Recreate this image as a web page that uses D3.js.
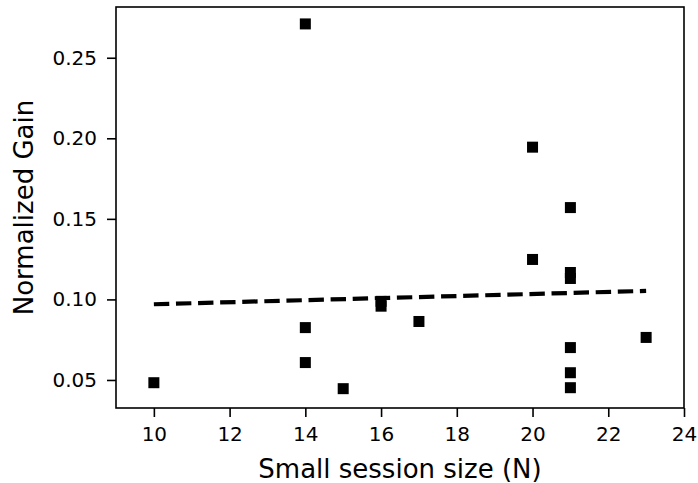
<!DOCTYPE html>
<meta charset="utf-8">
<style>
  body { margin: 0; background: #fff; }
  text { font-family: "DejaVu Sans", sans-serif; fill: #000; }
</style>
<div id="chart"></div>
<script src="https://d3js.org/d3.v7.min.js"></script>
<script>

// data
var sessionSize = [10, 14, 14, 14, 15, 16, 16, 17, 20, 20, 21, 21, 21, 21, 21, 21, 23];
var normGain    = [0.0483, 0.271, 0.0825, 0.0608, 0.0446, 0.0988, 0.0958, 0.0863,
                   0.1945, 0.1248, 0.157, 0.1167, 0.113, 0.0701, 0.0545, 0.0452, 0.0764];
// fitted trend line end points
var fitX = [10, 23];
var fitY = [0.097, 0.1053];
var xTicks = [10, 12, 14, 16, 18, 20, 22, 24];
var yTicks = [0.05, 0.10, 0.15, 0.20, 0.25];

var margin = {top: 7, right: 14, bottom: 75, left: 116},
    width = 698 - margin.left - margin.right,
    height = 483 - margin.top - margin.bottom;

var svg = d3.select("#chart")
  .append("svg")
    .attr("width", 698)
    .attr("height", 483)
  .append("g")
    .attr("transform", "translate(" + margin.left + "," + margin.top + ")");

var x = d3.scaleLinear().domain([9, 24]).range([0, width]);
var y = d3.scaleLinear().domain([0.0326, 0.2815]).range([height, 0]);

// axes
var xAxis = svg.append("g")
  .attr("transform", "translate(0," + height + ")")
  .call(d3.axisBottom(x).tickValues(xTicks).tickSize(9).tickPadding(10).tickSizeOuter(0));
var yAxis = svg.append("g")
  .call(d3.axisLeft(y).tickValues(yTicks).tickFormat(d3.format(".2f")).tickSize(9).tickPadding(10).tickSizeOuter(0));

[xAxis, yAxis].forEach(function(a) {
  a.select(".domain").remove();
  a.selectAll("line").attr("stroke", "#000").attr("stroke-width", 1.6);
  a.selectAll("text").style("font-size", "20px").attr("fill", "#000");
});

// frame
svg.append("rect")
  .attr("x", 0).attr("y", 0)
  .attr("width", width).attr("height", height)
  .attr("fill", "none")
  .attr("stroke", "#000")
  .attr("stroke-width", 1.6);

// trend line
var fit = fitX.map(function(d, i) { return [d, fitY[i]]; });
svg.append("path")
  .datum(fit)
  .attr("d", d3.line().x(function(d) { return x(d[0]); }).y(function(d) { return y(d[1]); }))
  .attr("fill", "none")
  .attr("stroke", "#000")
  .attr("stroke-width", 4.2)
  .attr("stroke-dasharray", "15.4,6.7");

// square markers
var s = 11;
svg.selectAll("rect.pt")
  .data(sessionSize)
  .enter()
  .append("rect")
    .attr("class", "pt")
    .attr("x", function(d) { return x(d) - s / 2; })
    .attr("y", function(d, i) { return y(normGain[i]) - s / 2; })
    .attr("width", s)
    .attr("height", s)
    .attr("fill", "#000");

// axis labels
svg.append("text")
  .attr("x", width / 2)
  .attr("y", height + 70)
  .attr("text-anchor", "middle")
  .style("font-size", "26px")
  .text("Small session size (N)");

svg.append("text")
  .attr("transform", "translate(" + (-83) + "," + (height / 2) + ") rotate(-90)")
  .attr("text-anchor", "middle")
  .style("font-size", "26px")
  .text("Normalized Gain");

</script>
